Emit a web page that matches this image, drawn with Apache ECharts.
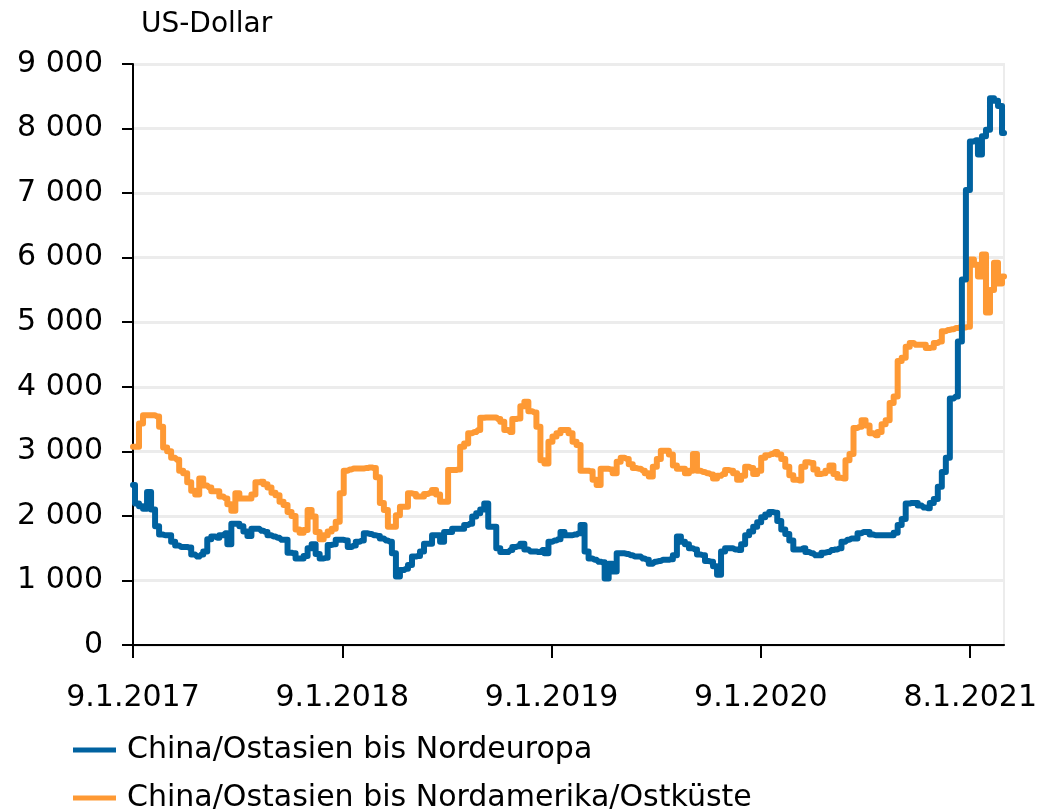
<!DOCTYPE html>
<html>
<head>
<meta charset="utf-8">
<script src="https://cdn.jsdelivr.net/npm/echarts@6/dist/echarts.min.js"></script>
<style>
  html, body { margin: 0; padding: 0; background: #fff; }
  #chart { width: 1040px; height: 811px; }
</style>
</head>
<body>
<div id="chart"></div>
<script>
// weekly values, first week = 9.1.2017
var tickDays = [0, 365, 730, 1095, 1460];
var tickLabels = ['9.1.2017', '9.1.2018', '9.1.2019', '9.1.2020', '8.1.2021'];

var nordeuropa = [
    2480, 2190, 2150, 2110, 2370, 2100, 1840, 1710, 1700, 1700,
    1600, 1540, 1520, 1520, 1510, 1400, 1370, 1400, 1450, 1640,
    1680, 1660, 1700, 1730, 1560, 1880, 1880, 1840, 1760, 1690,
    1800, 1800, 1770, 1750, 1700, 1680, 1660, 1630, 1630, 1430,
    1420, 1340, 1340, 1380, 1500, 1560, 1410, 1340, 1350, 1550,
    1560, 1630, 1630, 1620, 1520, 1540, 1600, 1620, 1730, 1720,
    1700, 1690, 1650, 1620, 1600, 1420, 1060, 1160, 1180, 1240,
    1370, 1380, 1450, 1570, 1570, 1700, 1700, 1600, 1750, 1750,
    1800, 1800, 1800, 1860, 1880, 1990, 2040, 2100, 2190, 1830,
    1830, 1500, 1440, 1440, 1470, 1520, 1530, 1570, 1480, 1450,
    1450, 1440, 1470, 1420, 1600, 1620, 1640, 1750, 1700, 1700,
    1710, 1730, 1860, 1450, 1340, 1320, 1290, 1280, 1030, 1260,
    1140, 1420, 1420, 1410, 1390, 1370, 1370, 1340, 1320, 1260,
    1290, 1300, 1320, 1320, 1330, 1390, 1680, 1600, 1560, 1500,
    1480, 1400, 1390, 1300, 1290, 1220, 1090, 1450, 1500, 1500,
    1480, 1470, 1560, 1700, 1760, 1830, 1900, 1980, 2020, 2060,
    2050, 1920, 1790, 1720, 1620, 1480, 1480, 1500, 1440, 1420,
    1390, 1390, 1430, 1440, 1470, 1480, 1500, 1600, 1630, 1650,
    1650, 1730, 1750, 1750, 1710, 1700, 1700, 1700, 1700, 1700,
    1740, 1860, 1950, 2190, 2200, 2200, 2160, 2130, 2120, 2200,
    2260, 2450, 2680, 2900, 3820, 3850, 4700, 5660, 7050, 7800,
    7820, 7600, 7880, 7980, 8470, 8430, 8350, 7930
];

var nordamerika = [
    3070, 3070, 3430, 3560, 3560, 3560, 3540, 3380, 3060, 3000,
    2900, 2870, 2700, 2660, 2520, 2390, 2330, 2580, 2470, 2440,
    2380, 2380, 2300, 2270, 2180, 2080, 2350, 2270, 2270, 2270,
    2330, 2520, 2530, 2490, 2440, 2360, 2320, 2220, 2170, 2060,
    2000, 1790, 1740, 1780, 2090, 1990, 1750, 1640, 1700, 1760,
    1800, 1910, 2350, 2700, 2720, 2735, 2735, 2735, 2740, 2750,
    2740, 2600, 2200, 2090, 1830, 1830, 2010, 2140, 2140, 2350,
    2340, 2300, 2300, 2340, 2360, 2400, 2330, 2220, 2220, 2710,
    2710, 2720, 3070, 3120, 3280, 3300, 3330, 3520, 3525, 3525,
    3525, 3500, 3460, 3330, 3300, 3500, 3510, 3700, 3770, 3620,
    3600, 3380, 2860, 2810, 3150, 3230, 3280, 3330, 3330, 3280,
    3150, 3100, 2700, 2700, 2690, 2560, 2480, 2730, 2730, 2720,
    2660, 2840, 2900, 2880, 2800, 2740, 2730, 2700, 2660, 2610,
    2760, 2880, 3010, 3010, 2950, 2780, 2730, 2730, 2660, 2700,
    2960, 2700, 2680, 2660, 2640, 2580, 2620, 2650, 2710, 2700,
    2660, 2560, 2620, 2760, 2740, 2650, 2700, 2900, 2940, 2960,
    2990, 2950, 2880, 2760, 2630, 2560, 2550, 2760, 2830, 2820,
    2720, 2650, 2660, 2700, 2780, 2650, 2590, 2580, 2860, 2960,
    3360, 3380, 3480, 3400, 3280, 3250, 3300, 3420, 3480, 3750,
    3850, 4400, 4450, 4620, 4680, 4650, 4650, 4650, 4600, 4610,
    4680, 4700, 4860, 4880, 4890, 4910, 4920, 4920, 4930, 5970,
    5890, 5710, 6050, 5150, 5500, 5920, 5600, 5710
];

var seriesNames = ['China/Ostasien bis Nordeuropa', 'China/Ostasien bis Nordamerika/Ostküste'];

function toPoints(values){
    return values.map(function(v, i){
        return [i * 7, v];
    });
}

var font = 'DejaVu Sans';

function legendFor(name, top){
    return {
        orient: 'vertical',
        left: 68,
        top: top,
        itemWidth: 43,
        itemHeight: 5,
        icon: 'rect',
        textStyle: { fontFamily: font, fontSize: 30, color: '#000', padding: [0, 0, 0, 6] },
        data: [name]
    };
}

var option = {
    animation: false,
    textStyle: { fontFamily: font },
    title: {
        text: 'US-Dollar',
        left: 136,
        top: 6,
        textStyle: { fontFamily: font, fontSize: 28, fontWeight: 'normal', color: '#000' }
    },
    legend: [
        legendFor(seriesNames[0], 730),
        legendFor(seriesNames[1], 778)
    ],
    grid: {
        left: 133,
        right: 35,
        top: 64,
        bottom: 166,
        show: true,
        borderColor: '#ececec',
        borderWidth: 2
    },
    xAxis: {
        type: 'value',
        min: 0,
        max: (nordeuropa.length - 1) * 7,
        interval: 365,
        axisLine: { lineStyle: { color: '#000', width: 2 } },
        axisTick: { customValues: tickDays, length: 13, lineStyle: { color: '#000', width: 2 } },
        axisLabel: {
            customValues: tickDays,
            margin: 38,
            fontSize: 30,
            fontFamily: font,
            color: '#000',
            formatter: function(v){
                var i = tickDays.indexOf(v);
                return i >= 0 ? tickLabels[i] : '';
            }
        },
        splitLine: { show: false }
    },
    yAxis: {
        type: 'value',
        min: 0,
        max: 9000,
        interval: 1000,
        axisLine: { show: true, lineStyle: { color: '#000', width: 2 } },
        axisTick: { show: true, length: 11, lineStyle: { color: '#000', width: 2 } },
        axisLabel: {
            margin: 30,
            fontSize: 30,
            fontFamily: font,
            color: '#000',
            formatter: function(v){
                return v === 0 ? '0' : (v / 1000) + ' 000';
            }
        },
        splitLine: { lineStyle: { color: '#ececec', width: 3 } }
    },
    series: [
        {
            name: seriesNames[0],
            type: 'line',
            step: 'middle',
            symbol: 'none',
            data: toPoints(nordeuropa),
            itemStyle: { color: '#0062a0' },
            lineStyle: { color: '#0062a0', width: 6, join: 'round', cap: 'round' },
            z: 3
        },
        {
            name: seriesNames[1],
            type: 'line',
            step: 'middle',
            symbol: 'none',
            data: toPoints(nordamerika),
            itemStyle: { color: '#fe9934' },
            lineStyle: { color: '#fe9934', width: 6, join: 'round', cap: 'round' },
            z: 2
        }
    ]
};

var mychart = echarts.init(document.getElementById('chart'));
mychart.setOption(option);
</script>
</body>
</html>
